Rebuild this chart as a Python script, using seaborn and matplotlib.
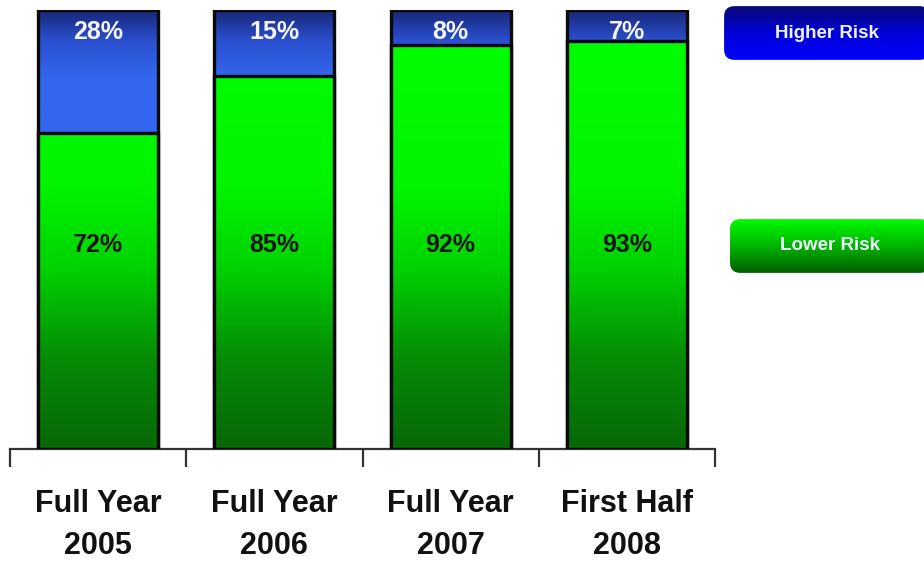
import numpy as np
import pandas as pd
import matplotlib
matplotlib.use("Agg")
import matplotlib.pyplot as plt
from matplotlib.colors import LinearSegmentedColormap
from matplotlib.patches import FancyBboxPatch
from matplotlib import font_manager
import seaborn as sns

categories = ["Full Year\n2005", "Full Year\n2006", "Full Year\n2007", "First Half\n2008"]
lower_risk = [72, 85, 92, 93]
higher_risk = [28, 15, 8, 7]
legend_labels = ["Higher Risk", "Lower Risk"]

sns.set_theme(style="white")
plt.rcParams['font.family'] = ['Liberation Sans', 'DejaVu Sans']

names = {f.name for f in font_manager.fontManager.ttflist}
if "Liberation Sans Narrow" in names:
    narrow = ["Liberation Sans Narrow", "DejaVu Sans"]
    tick_fs, val_fs = 25, 21
else:
    narrow = ["Liberation Sans", "DejaVu Sans"]
    tick_fs, val_fs = 22, 18

df = pd.DataFrame({"category": categories, "lower": lower_risk, "higher": higher_risk})
df["total"] = df["lower"] + df["higher"]

fig = plt.figure(figsize=(9.24, 5.65), dpi=100)
ax = fig.add_axes([10/924, 116/565, 705/924, 439/565])

bar_w = 0.68
sns.barplot(data=df, x="category", y="total", color="#2a50d0", width=bar_w, ax=ax,
            edgecolor="#0a0a0a", linewidth=2.4, zorder=3)
sns.barplot(data=df, x="category", y="lower", color="#00c000", width=bar_w, ax=ax,
            edgecolor="#0a0a0a", linewidth=2.4, zorder=4)

# colormaps defined over absolute value axis (0..100)
blue_cmap = LinearSegmentedColormap.from_list(
    "b", [(0.0, "#3366ee"), (0.85, "#3366ee"), (0.93, "#2b50d0"), (1.0, "#18287a")])
green_cmap = LinearSegmentedColormap.from_list(
    "g", [(0.0, "#086808"), (0.2, "#058a05"), (0.42, "#00d400"), (0.6, "#00f400"), (1.0, "#00ff00")])

patches = list(ax.patches)
n = len(categories)
for i, p in enumerate(patches):
    x, y = p.get_x(), p.get_y()
    w, h = p.get_width(), p.get_height()
    cmap = blue_cmap if i < n else green_cmap
    yv = np.linspace(y + h, y, 256).reshape(-1, 1)
    im = ax.imshow(yv, extent=[x, x + w, y, y + h], aspect="auto", cmap=cmap,
                   vmin=0, vmax=100, zorder=p.get_zorder() - 0.05, interpolation="bilinear")
    im.set_clip_path(p)
    p.set_facecolor("none")

ax.set_xlim(-0.5, n - 0.5)
ax.set_ylim(0, 100)

for i in range(n):
    ax.text(i, 95, f"{higher_risk[i]}%", ha="center", va="center", color="#f4f4ff",
            fontsize=val_fs, fontweight="bold", family=narrow, zorder=10)
    ax.text(i, 46.5, f"{lower_risk[i]}%", ha="center", va="center", color="#151515",
            fontsize=val_fs, fontweight="bold", family=narrow, zorder=10)

for s in ["top", "right", "left"]:
    ax.spines[s].set_visible(False)
ax.spines["bottom"].set_color("#333333")
ax.spines["bottom"].set_linewidth(1.6)
ax.set_yticks([])
ax.set_xlabel("")
ax.set_ylabel("")
ax.set_xticks(range(n))
ax.set_xticklabels(categories, fontsize=tick_fs, fontweight="bold", color="#111111",
                   linespacing=1.5, family=narrow)
ax.set_xticks(np.arange(-0.5, n, 1.0), minor=True)
ax.tick_params(axis="x", which="major", length=0, pad=29)
ax.tick_params(axis="x", which="minor", length=13, width=1.6, color="#333333", direction="out", bottom=True)
ax.set_facecolor("white")

grad = np.linspace(1, 0, 256).reshape(-1, 1)

def legend_box(rect, colors, label):
    lax = fig.add_axes(rect)
    lax.set_xlim(0, 1)
    lax.set_ylim(0, 1)
    lax.axis("off")
    cm = LinearSegmentedColormap.from_list("l", colors)
    im = lax.imshow(grad, extent=[0, 1, 0, 1], aspect="auto", cmap=cm, vmin=0, vmax=1,
                    interpolation="bilinear")
    box = FancyBboxPatch((0.01, 0.02), 0.98, 0.96, boxstyle="round,pad=0,rounding_size=0.05",
                         mutation_aspect=3.6, facecolor="none", edgecolor="none",
                         transform=lax.transAxes)
    lax.add_patch(box)
    im.set_clip_path(box)
    lax.text(0.5, 0.5, label, ha="center", va="center", color="#eef0ff",
             fontsize=13.5, fontweight="bold")

legend_box([722/924, 1 - 61/565, 210/924, 56/565], ["#0000ff", "#0000d8", "#0a0a70"], legend_labels[0])
legend_box([728/924, 1 - 274/565, 204/924, 56/565], ["#005a00", "#00b400", "#00ff00"], legend_labels[1])

fig.savefig("out.png", dpi=100, facecolor="white")
